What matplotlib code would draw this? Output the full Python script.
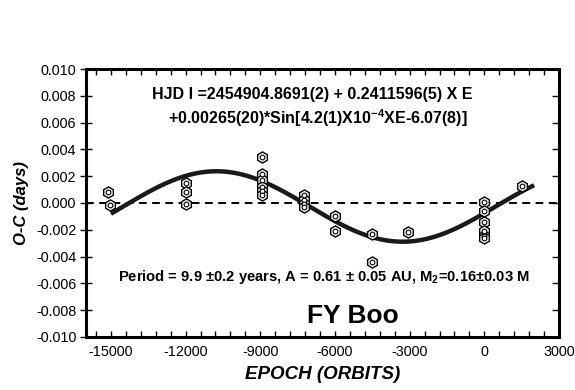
import numpy as np
import matplotlib
matplotlib.use("Agg")
import matplotlib.pyplot as plt
from matplotlib.ticker import MultipleLocator

plt.rcParams['font.family'] = ['Liberation Sans', 'DejaVu Sans']
plt.rcParams['mathtext.fontset'] = 'custom'
plt.rcParams['mathtext.rm'] = 'Liberation Sans'
plt.rcParams['mathtext.bf'] = 'Liberation Sans:bold'

# Observed O-C data (epoch, days)
epoch = [-15100, -15050,
         -12000, -12000, -12000,
         -8950, -8950, -8950, -8950, -8950, -8950,
         -7250, -7250, -7250, -7250,
         -5990, -5990,
         -4520, -4520,
         -3075,
         0, 0, 0, 0, 0, 0,
         1510]
oc = [0.00084, -0.00015,
      0.00147, 0.0008, -0.0001,
      0.0034, 0.0022, 0.0017, 0.0012, 0.0009, 0.0006,
      0.0006, 0.0002, -0.0001, -0.0003,
      -0.00095, -0.00207,
      -0.0023, -0.0044,
      -0.00214,
      0.00005, -0.0006, -0.0014, -0.0021, -0.0025, -0.0026,
      0.00125]

# Fitted sinusoid parameters
fit_amp = 0.00263
fit_omega = 4.2e-4
fit_phase = 6.091
fit_offset = -0.00026
fit_range = (-15000, 2000)

xticks = [-15000, -12000, -9000, -6000, -3000, 0, 3000]
yticks = [0.010, 0.008, 0.006, 0.004, 0.002, 0.000, -0.002, -0.004, -0.006, -0.008, -0.010]

fig = plt.figure(figsize=(5.75, 3.9), dpi=100)
ax = fig.add_axes([0.1496, 0.136, 0.8226, 0.687])

ax.set_xlim(-16000, 3000)
ax.set_ylim(-0.010, 0.010)

ax.axhline(0, color='black', lw=1.4, ls=(0, (4, 2.8)), zorder=1)

E = np.linspace(fit_range[0], fit_range[1], 400)
ax.plot(E, fit_offset + fit_amp * np.sin(fit_omega * E + fit_phase),
        color='#1a1a1a', lw=3.2, solid_capstyle='butt', zorder=2)

ax.plot(epoch, oc, ls='none', marker='h', ms=8, mfc='white', mec='black',
        mew=1.0, zorder=3)
ax.plot(epoch, oc, ls='none', marker='o', ms=3.4, mfc='white', mec='black',
        mew=0.8, zorder=4)

ax.set_xticks(xticks)
ax.set_xticklabels([f"{t:d}" for t in xticks])
ax.xaxis.set_minor_locator(MultipleLocator(600))
ax.set_yticks(yticks)
ax.set_yticklabels([f"{t:.3f}" if t != 0 else "0.000" for t in yticks])

for s in ax.spines.values():
    s.set_linewidth(2.2)

ax.tick_params(axis='x', which='both', direction='in', top=True, bottom=True,
               length=4, width=1.0, labelsize=10.4, pad=6)
ax.tick_params(axis='y', which='major', direction='inout', left=True, right=False,
               length=8, width=1.0, labelsize=10.4, pad=3)

# right-side inward ticks
axr = ax.twinx()
axr.set_ylim(ax.get_ylim())
axr.set_yticks(yticks)
axr.tick_params(axis='y', direction='in', length=5, width=1.0, labelright=False)
for s in axr.spines.values():
    s.set_visible(False)

ax.set_xlabel('EPOCH (ORBITS)', fontsize=13.5, fontweight='bold', fontstyle='italic',
              labelpad=5)
ax.set_ylabel('O-C (days)', fontsize=12, fontweight='bold', fontstyle='italic',
              labelpad=5)

ax.text(0.818, 0.905, 'HJD I =2454904.8691(2) + 0.2411596(5) X E', transform=ax.transAxes,
        ha='right', va='center', fontsize=11.5, fontweight='bold')
ax.text(0.806, 0.815, r'+0.00265(20)*Sin[4.2(1)X10$^{\mathbf{-4}}$XE-6.07(8)]',
        transform=ax.transAxes, ha='right', va='center', fontsize=11.5, fontweight='bold')
ax.text(0.068, 0.222, r'Period = 9.9 ±0.2 years, A = 0.61 ± 0.05 AU, M$_{\mathbf{2}}$=0.16±0.03 M',
        transform=ax.transAxes, ha='left', va='center', fontsize=10.65, fontweight='bold')
ax.text(0.468, 0.08, 'FY Boo', transform=ax.transAxes, ha='left', va='center',
        fontsize=19, fontweight='bold')

fig.savefig('out.png', dpi=100)
